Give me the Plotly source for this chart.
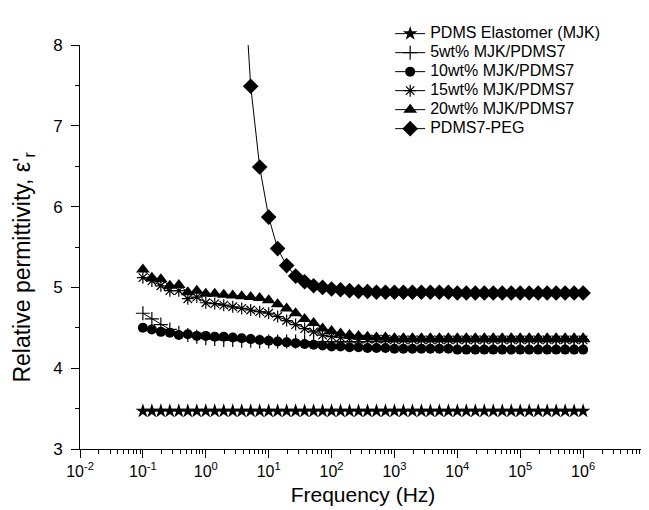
import plotly.graph_objects as go

# Frequency sweep (Hz), 7 points per decade from 0.1 Hz to 1 MHz
freq = [
    0.1, 0.1389, 0.1931, 0.2683, 0.3728, 0.5179, 0.7197,
    1.0, 1.389, 1.931, 2.683, 3.728, 5.179, 7.197,
    10, 13.89, 19.31, 26.83, 37.28, 51.79, 71.97,
    100, 138.9, 193.1, 268.3, 372.8, 517.9, 719.7,
    1000, 1389, 1931, 2683, 3728, 5179, 7197,
    1e4, 1.389e4, 1.931e4, 2.683e4, 3.728e4, 5.179e4, 7.197e4,
    1e5, 1.389e5, 1.931e5, 2.683e5, 3.728e5, 5.179e5, 7.197e5,
    1e6,
]

pdms_elastomer = [
    3.47, 3.47, 3.47, 3.47, 3.47, 3.47, 3.47, 3.47, 3.47, 3.47,
    3.47, 3.47, 3.47, 3.47, 3.47, 3.47, 3.47, 3.47, 3.47, 3.47,
    3.47, 3.47, 3.47, 3.47, 3.47, 3.47, 3.47, 3.47, 3.47, 3.47,
    3.47, 3.47, 3.47, 3.47, 3.47, 3.47, 3.47, 3.47, 3.47, 3.47,
    3.47, 3.47, 3.47, 3.47, 3.47, 3.47, 3.47, 3.47, 3.47, 3.47,
]

wt5 = [
    4.68, 4.61, 4.54, 4.48, 4.44, 4.41, 4.39, 4.37, 4.36, 4.35,
    4.35, 4.34, 4.34, 4.33, 4.33, 4.33, 4.33, 4.33, 4.33, 4.33,
    4.33, 4.33, 4.33, 4.33, 4.33, 4.33, 4.33, 4.33, 4.33, 4.33,
    4.33, 4.33, 4.33, 4.33, 4.33, 4.33, 4.33, 4.33, 4.33, 4.33,
    4.33, 4.33, 4.33, 4.33, 4.33, 4.33, 4.33, 4.33, 4.33, 4.33,
]

wt10 = [
    4.50, 4.48, 4.45, 4.44, 4.41, 4.42, 4.40, 4.40, 4.39, 4.39,
    4.38, 4.37, 4.36, 4.35, 4.34, 4.33, 4.32, 4.31, 4.30, 4.29,
    4.28, 4.27, 4.27, 4.26, 4.26, 4.25, 4.25, 4.25, 4.24, 4.24,
    4.24, 4.24, 4.24, 4.24, 4.24, 4.23, 4.23, 4.23, 4.23, 4.23,
    4.23, 4.23, 4.23, 4.23, 4.23, 4.23, 4.23, 4.23, 4.23, 4.23,
]

wt15 = [
    5.12, 5.08, 5.02, 4.96, 4.96, 4.86, 4.88, 4.81, 4.80, 4.78,
    4.76, 4.74, 4.72, 4.70, 4.68, 4.64, 4.59, 4.54, 4.49, 4.45,
    4.41, 4.39, 4.38, 4.37, 4.36, 4.36, 4.36, 4.36, 4.35, 4.35,
    4.35, 4.35, 4.35, 4.35, 4.35, 4.35, 4.35, 4.35, 4.35, 4.35,
    4.35, 4.35, 4.35, 4.35, 4.35, 4.35, 4.35, 4.35, 4.35, 4.35,
]

wt20 = [
    5.22, 5.12, 5.10, 5.02, 5.03, 4.94, 4.96, 4.92, 4.92, 4.91,
    4.90, 4.89, 4.88, 4.87, 4.84, 4.79, 4.74, 4.68, 4.61, 4.56,
    4.49, 4.46, 4.43, 4.41, 4.40, 4.39, 4.38, 4.38, 4.37, 4.37,
    4.37, 4.37, 4.37, 4.37, 4.37, 4.37, 4.37, 4.37, 4.37, 4.37,
    4.37, 4.37, 4.37, 4.37, 4.37, 4.37, 4.37, 4.37, 4.37, 4.37,
]

pdms7_peg = [
    105.0, 85.0, 68.0, 55.0, 44.0, 35.0, 28.0, 22.5, 18.0, 14.5,
    11.6, 9.3, 7.49, 6.49, 5.87, 5.48, 5.27, 5.14, 5.07, 5.02,
    5.00, 4.98, 4.97, 4.96, 4.95, 4.95, 4.94, 4.94, 4.94, 4.94,
    4.94, 4.94, 4.94, 4.94, 4.94, 4.93, 4.93, 4.93, 4.93, 4.93,
    4.93, 4.93, 4.93, 4.93, 4.93, 4.93, 4.93, 4.93, 4.93, 4.93,
]

x_tick_vals = [1e-2, 1e-1, 1e0, 1e1, 1e2, 1e3, 1e4, 1e5, 1e6, 1e7]
x_tick_text = ["10<sup>-2</sup>", "10<sup>-1</sup>", "10<sup>0</sup>", "10<sup>1</sup>",
               "10<sup>2</sup>", "10<sup>3</sup>", "10<sup>4</sup>", "10<sup>5</sup>",
               "10<sup>6</sup>", "10<sup>7</sup>"]
y_tick_vals = [3, 4, 5, 6, 7, 8]

x_title = "Frequency (Hz)"
y_title = "Relative permittivity, ε'<sub>r</sub>"

series_names = ["PDMS Elastomer (MJK)", "5wt% MJK/PDMS7", "10wt% MJK/PDMS7",
                "15wt% MJK/PDMS7", "20wt% MJK/PDMS7", "PDMS7-PEG"]
series_values = [pdms_elastomer, wt5, wt10, wt15, wt20, pdms7_peg]
series_symbols = ["star", "cross-thin-open", "circle", "asterisk-open", "triangle-up", "diamond"]
series_sizes = [11, 10, 10, 10, 12, 12]
series_outline = [0, 1.2, 0, 1.2, 0, 0]

fig = go.Figure()
for name, vals, sym, size, lw in zip(series_names, series_values, series_symbols,
                                     series_sizes, series_outline):
    fig.add_trace(go.Scatter(
        x=freq, y=vals,
        name='<span style="font-size:16px">' + name + '</span>',
        mode="lines+markers",
        line=dict(color="black", width=1),
        marker=dict(symbol=sym, size=size, color="black",
                    line=dict(color="black", width=lw)),
    ))

minor_x = [m * 10.0 ** e for e in range(-2, 7) for m in range(2, 10)]

fig.update_layout(
    width=649, height=510,
    margin=dict(l=72, r=11, t=23, b=69),
    paper_bgcolor="white", plot_bgcolor="white",
    font=dict(family="Liberation Sans, Arial, sans-serif", color="black", size=16),
    legend=dict(x=0.548, y=1.064, xanchor="left", yanchor="top",
                bgcolor="rgba(0,0,0,0)", font=dict(size=11),
                tracegroupgap=0, itemwidth=30),
    showlegend=True,
)
fig.add_annotation(
    text=y_title, textangle=-90, xref="paper", yref="paper",
    x=-0.1, y=0.45, xanchor="center", yanchor="middle",
    showarrow=False, font=dict(size=23, color="black"),
)
fig.update_xaxes(
    type="log", range=[-2, 7],
    tickmode="array", tickvals=x_tick_vals, ticktext=x_tick_text,
    ticks="outside", ticklen=8, tickwidth=1, tickcolor="black",
    showline=True, linecolor="black", linewidth=1, mirror=False,
    showgrid=False, zeroline=False,
    minor=dict(tickmode="array", tickvals=minor_x, ticks="outside",
               ticklen=4, tickwidth=1, tickcolor="black", showgrid=False),
    title=dict(text=x_title, font=dict(size=21), standoff=8),
    tickfont=dict(size=16),
    automargin=False,
)
fig.update_yaxes(
    range=[3, 8],
    tickmode="array", tickvals=y_tick_vals,
    ticks="outside", ticklen=8, tickwidth=1, tickcolor="black",
    showline=True, linecolor="black", linewidth=1, mirror=False,
    showgrid=False, zeroline=False,
    minor=dict(dtick=0.5, ticks="outside", ticklen=4, tickwidth=1,
               tickcolor="black", showgrid=False),
    tickfont=dict(size=17),
    ticklabelstandoff=5,
    automargin=False,
)

fig.write_html("out.html")
